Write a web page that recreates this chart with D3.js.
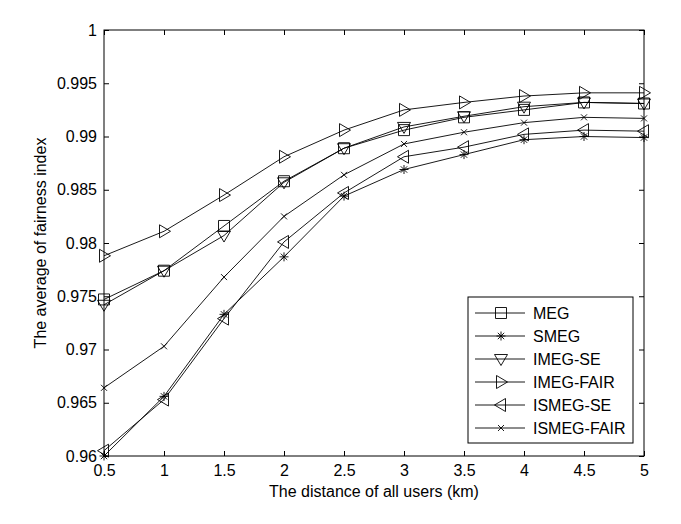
<!DOCTYPE html>
<html>
<head>
<meta charset="utf-8">
<script src="https://cdn.jsdelivr.net/npm/d3@7"></script>
<style>
  body { margin: 0; background: #fff; }
  text { font-family: "Liberation Sans", Arial, sans-serif; fill: #000; }
</style>
</head>
<body>
<svg id="chart" width="681" height="524"></svg>
<script>
// distance of all users (km)
const distances = [0.5, 1, 1.5, 2, 2.5, 3, 3.5, 4, 4.5, 5];

const seriesNames = [`MEG`, `SMEG`, `IMEG-SE`, `IMEG-FAIR`, `ISMEG-SE`, `ISMEG-FAIR`];
const seriesMarkers = [`square`, `asterisk`, `triDown`, `triRight`, `triLeft`, `cross`];

const meg       = [0.9747, 0.9774, 0.9816, 0.9858, 0.9889, 0.9906, 0.9918, 0.9925, 0.9932, 0.9931];
const smeg      = [0.9600, 0.9656, 0.9733, 0.9787, 0.9844, 0.9869, 0.9883, 0.9897, 0.9900, 0.9899];
const imegSe    = [0.9742, 0.9774, 0.9807, 0.9857, 0.9889, 0.9909, 0.9919, 0.9928, 0.9932, 0.9931];
const imegFair  = [0.9788, 0.9811, 0.9845, 0.9881, 0.9906, 0.9925, 0.9932, 0.9938, 0.9941, 0.9941];
const ismegSe   = [0.9605, 0.9653, 0.9729, 0.9801, 0.9847, 0.9881, 0.9890, 0.9902, 0.9906, 0.9905];
const ismegFair = [0.9664, 0.9703, 0.9768, 0.9825, 0.9864, 0.9893, 0.9904, 0.9913, 0.9918, 0.9917];

const seriesValues = [meg, smeg, imegSe, imegFair, ismegSe, ismegFair];

const xTicks = [0.5, 1, 1.5, 2, 2.5, 3, 3.5, 4, 4.5, 5];
const yTicks = [0.96, 0.965, 0.97, 0.975, 0.98, 0.985, 0.99, 0.995, 1];

const margin = { left: 104, top: 30, right: 37, bottom: 68 };
const width = 681;
const height = 524;
const fontSize = `16px`;

const svg = d3.select(`#chart`);

const x = d3.scaleLinear()
    .domain([0.5, 5])
    .range([margin.left, width - margin.right]);

const y = d3.scaleLinear()
    .domain([0.96, 1])
    .range([height - margin.bottom, margin.top]);

// marker shapes, drawn around (0,0)
const markerPath = (type) => {
    switch (type) {
        case `square`:
            return `M-5.5,-5.5H5.5V5.5H-5.5Z`;
        case `triDown`:
            return `M-6.5,-4.5L6.5,-4.5L0,6.5Z`;
        case `triRight`:
            return `M-4.5,-6.5L6.5,0L-4.5,6.5Z`;
        case `triLeft`:
            return `M4.5,-6.5L-6.5,0L4.5,6.5Z`;
        case `asterisk`:
            return `M-4.5,0H4.5M0,-4.5V4.5M-3.2,-3.2L3.2,3.2M-3.2,3.2L3.2,-3.2`;
        case `cross`:
            return `M-3,-3L3,3M-3,3L3,-3`;
    }
    return ``;
};

const plot = svg.append(`g`);

// axes box with inward ticks on all four sides
const tickLen = 5;
const bottomAxis = d3.axisBottom(x).tickValues(xTicks).tickSize(-tickLen).tickPadding(9)
    .tickFormat(d3.format(`~g`));
const topAxis = d3.axisTop(x).tickValues(xTicks).tickSize(-tickLen).tickFormat(``);
const leftAxis = d3.axisLeft(y).tickValues(yTicks).tickSize(-tickLen).tickPadding(7)
    .tickFormat(d3.format(`~g`));
const rightAxis = d3.axisRight(y).tickValues(yTicks).tickSize(-tickLen).tickFormat(``);

const styleAxis = (g) => {
    g.select(`.domain`).remove();
    g.selectAll(`.tick line`).attr(`stroke`, `#000`);
    g.selectAll(`text`).style(`font-size`, fontSize).attr(`fill`, `#000`);
};

plot.append(`g`).attr(`transform`, `translate(0,${height - margin.bottom})`).call(bottomAxis).call(styleAxis);
plot.append(`g`).attr(`transform`, `translate(0,${margin.top})`).call(topAxis).call(styleAxis);
plot.append(`g`).attr(`transform`, `translate(${margin.left},0)`).call(leftAxis).call(styleAxis);
plot.append(`g`).attr(`transform`, `translate(${width - margin.right},0)`).call(rightAxis).call(styleAxis);

plot.append(`rect`)
    .attr(`x`, x(0.5))
    .attr(`y`, y(1))
    .attr(`width`, x(5) - x(0.5))
    .attr(`height`, y(0.96) - y(1))
    .attr(`fill`, `none`)
    .attr(`stroke`, `#000`)
    .attr(`stroke-width`, 1);

// series lines and markers
const line = d3.line()
    .x((d, i) => x(distances[i]))
    .y(d => y(d));

seriesValues.forEach((values, s) => {
    plot.append(`path`)
        .datum(values)
        .attr(`d`, line)
        .attr(`fill`, `none`)
        .attr(`stroke`, `#000`)
        .attr(`stroke-width`, 0.9);

    plot.selectAll(`.m${s}`)
        .data(values)
        .enter()
        .append(`path`)
        .attr(`class`, `m${s}`)
        .attr(`transform`, (d, i) => `translate(${x(distances[i])},${y(d)})`)
        .attr(`d`, markerPath(seriesMarkers[s]))
        .attr(`fill`, `none`)
        .attr(`stroke`, `#000`)
        .attr(`stroke-width`, 0.9);
});

// axis titles
svg.append(`text`)
    .attr(`x`, (x(0.5) + x(5)) / 2)
    .attr(`y`, 497)
    .attr(`text-anchor`, `middle`)
    .style(`font-size`, fontSize)
    .text(`The distance of all users (km)`);

svg.append(`text`)
    .attr(`transform`, `translate(46,${(y(0.96) + y(1)) / 2}) rotate(-90)`)
    .attr(`text-anchor`, `middle`)
    .style(`font-size`, fontSize)
    .text(`The average of fairness index`);

// legend
const legendX = 468;
const legendY = 297;
const legendW = 165;
const legendH = 146;
const legend = svg.append(`g`);

legend.append(`rect`)
    .attr(`x`, legendX)
    .attr(`y`, legendY)
    .attr(`width`, legendW)
    .attr(`height`, legendH)
    .attr(`fill`, `#fff`)
    .attr(`stroke`, `#000`)
    .attr(`stroke-width`, 1);

seriesNames.forEach((name, s) => {
    const rowY = legendY + 16 + s * 23;
    legend.append(`line`)
        .attr(`x1`, legendX + 7)
        .attr(`x2`, legendX + 57)
        .attr(`y1`, rowY)
        .attr(`y2`, rowY)
        .attr(`stroke`, `#000`)
        .attr(`stroke-width`, 0.9);
    legend.append(`path`)
        .attr(`transform`, `translate(${legendX + 33},${rowY})`)
        .attr(`d`, markerPath(seriesMarkers[s]))
        .attr(`fill`, `none`)
        .attr(`stroke`, `#000`)
        .attr(`stroke-width`, 0.9);
    legend.append(`text`)
        .attr(`x`, legendX + 65)
        .attr(`y`, rowY)
        .attr(`dy`, `0.36em`)
        .style(`font-size`, fontSize)
        .text(name);
});
</script>
</body>
</html>
